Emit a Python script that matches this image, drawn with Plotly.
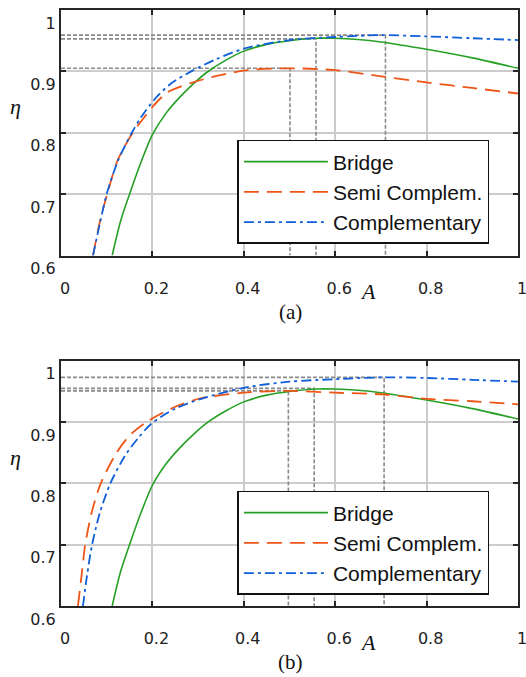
import plotly.graph_objects as go

# ---------------- data ----------------
X_TICKS = [0, 0.2, 0.4, 0.6, 0.8, 1.0]
X_TICK_TEXT = ["0", "0.2", "0.4", "0.6", "0.8", "1"]
Y_TICKS = [0.6, 0.7, 0.8, 0.9, 1.0]
Y_TICK_TEXT = ["0.6", "0.7", "0.8", "0.9", "1"]

SERIES = ["Bridge", "Semi Complem.", "Complementary"]

# Bridge (same in both panels)
A_BRIDGE = [0.112, 0.130, 0.150, 0.175, 0.200, 0.230, 0.260, 0.290, 0.320, 0.360,
            0.400, 0.450, 0.500, 0.560, 0.600, 0.650, 0.700, 0.800, 0.900, 1.000]
ETA_BRIDGE = [0.600, 0.655, 0.700, 0.752, 0.797, 0.832, 0.858, 0.880, 0.899, 0.918,
              0.933, 0.944, 0.950, 0.954, 0.954, 0.952, 0.948, 0.936, 0.922, 0.905]

# panel (a)
A_SEMI_A = [0.070, 0.085, 0.101, 0.125, 0.157, 0.182, 0.200, 0.233, 0.284, 0.343,
            0.409, 0.500, 0.600, 0.700, 0.800, 0.900, 1.000]
ETA_SEMI_A = [0.600, 0.655, 0.700, 0.757, 0.800, 0.825, 0.842, 0.866, 0.881, 0.893,
              0.902, 0.905, 0.902, 0.892, 0.882, 0.873, 0.864]
A_COMP_A = [0.070, 0.085, 0.100, 0.125, 0.155, 0.175, 0.203, 0.240, 0.285, 0.340,
            0.400, 0.500, 0.600, 0.700, 0.800, 0.900, 1.000]
ETA_COMP_A = [0.600, 0.652, 0.700, 0.755, 0.800, 0.825, 0.853, 0.880, 0.900, 0.920,
              0.937, 0.951, 0.956, 0.959, 0.957, 0.954, 0.951]

# panel (b)
A_SEMI_B = [0.037, 0.045, 0.053, 0.068, 0.087, 0.120, 0.150, 0.189, 0.250, 0.307,
            0.400, 0.497, 0.600, 0.707, 0.800, 0.900, 1.000]
ETA_SEMI_B = [0.600, 0.650, 0.700, 0.755, 0.800, 0.848, 0.878, 0.901, 0.925, 0.939,
              0.948, 0.951, 0.948, 0.945, 0.938, 0.934, 0.929]
A_COMP_B = [0.048, 0.057, 0.068, 0.085, 0.108, 0.140, 0.170, 0.197, 0.250, 0.307,
            0.400, 0.500, 0.600, 0.707, 0.800, 0.900, 1.000]
ETA_COMP_B = [0.600, 0.650, 0.700, 0.752, 0.800, 0.845, 0.875, 0.897, 0.922, 0.938,
              0.956, 0.966, 0.970, 0.973, 0.972, 0.969, 0.966]

# optimum markers (A, eta) per series: semi, bridge, complementary
PEAK_A_A = [0.501, 0.558, 0.710]
PEAK_ETA_A = [0.905, 0.953, 0.959]
PEAK_A_B = [0.4975, 0.554, 0.707]
PEAK_ETA_B = [0.951, 0.955, 0.973]

# ---------------- style ----------------
GREEN = "#25a025"
ORANGE = "#ee5516"
BLUE = "#0f5fd8"
GRAY = "#8a8a8a"
FRAME = "#262626"

fig = go.Figure()

panels = [
    ("x", "y", "legend", A_SEMI_A, ETA_SEMI_A, A_COMP_A, ETA_COMP_A, PEAK_A_A, PEAK_ETA_A),
    ("x2", "y2", "legend2", A_SEMI_B, ETA_SEMI_B, A_COMP_B, ETA_COMP_B, PEAK_A_B, PEAK_ETA_B),
]

for xa, ya, leg, a_s, e_s, a_c, e_c, pk_a, pk_e in panels:
    # optimum dashed guides
    for a, e in zip(pk_a, pk_e):
        fig.add_trace(go.Scatter(
            x=[0, a, a], y=[e, e, 0.6], mode="lines", xaxis=xa, yaxis=ya,
            line=dict(color=GRAY, width=1.6, dash="4px,2px"),
            showlegend=False, hoverinfo="skip"))
    fig.add_trace(go.Scatter(
        x=A_BRIDGE, y=ETA_BRIDGE, mode="lines", name=SERIES[0], xaxis=xa, yaxis=ya,
        line=dict(color=GREEN, width=1.6, shape="spline", smoothing=0.8),
        legend=leg, legendgroup="g1" + leg))
    fig.add_trace(go.Scatter(
        x=a_s, y=e_s, mode="lines", name=SERIES[1], xaxis=xa, yaxis=ya,
        line=dict(color=ORANGE, width=1.8, dash="15px,8px", shape="spline", smoothing=0.8),
        legend=leg, legendgroup="g2" + leg))
    fig.add_trace(go.Scatter(
        x=a_c, y=e_c, mode="lines", name=SERIES[2], xaxis=xa, yaxis=ya,
        line=dict(color=BLUE, width=1.8, dash="10px,4px,3px,4px", shape="spline", smoothing=0.8),
        legend=leg, legendgroup="g3" + leg))

TICKFONT = dict(family="DejaVu Sans", size=16, color="#222222")

xaxis_common = dict(
    range=[0, 1], tickvals=X_TICKS, ticktext=X_TICK_TEXT, tickfont=TICKFONT,
    showgrid=True, gridcolor="#cccccc", gridwidth=1.5, zeroline=False,
    showline=True, linecolor=FRAME, linewidth=2, mirror="allticks",
    ticks="inside", ticklen=5, tickwidth=1.5, tickcolor=FRAME, automargin=False,
    ticklabelshift=4, ticklabelstandoff=17, ticklabeloverflow="allow", fixedrange=True)
yaxis_common = dict(
    range=[0.6, 1.0], tickvals=Y_TICKS, ticktext=Y_TICK_TEXT, tickfont=TICKFONT,
    showgrid=True, gridcolor="#cccccc", gridwidth=1.5, zeroline=False,
    showline=True, linecolor=FRAME, linewidth=2, mirror="allticks",
    ticks="inside", ticklen=5, tickwidth=1.5, tickcolor=FRAME, automargin=False,
    ticklabelshift=13, ticklabelstandoff=0, ticklabeloverflow="allow", fixedrange=True)

LEGEND_COMMON = dict(
    xref="paper", yref="paper", xanchor="left", yanchor="top",
    bgcolor="white", bordercolor="#111111", borderwidth=1.5,
    font=dict(family="Liberation Sans", size=21, color="#111111"),
    itemwidth=84, tracegroupgap=0, itemclick=False, itemdoubleclick=False)

SERIF = "Liberation Serif"


def label(text, x, y, size):
    return dict(text=text, x=x, y=y, xref="paper", yref="paper", showarrow=False,
                xanchor="center", yanchor="middle",
                font=dict(family=SERIF, size=size, color="#111111"))


ann = [
    label("η", -0.0985, 0.838, 22),
    label("η", -0.0985, 0.249, 22),
    label("A", 0.671, 0.5285, 22),
    label("A", 0.671, -0.061, 22),
    label("(a)", 0.503, 0.494, 21),
    label("(b)", 0.503, -0.0935, 21),
]
for a in ann[:4]:
    a["font"]["style"] = "italic"

fig.update_layout(
    width=526, height=677,
    margin=dict(l=61, r=8, t=10, b=71),
    paper_bgcolor="white", plot_bgcolor="white",
    xaxis=dict(domain=[0, 1], anchor="y", **xaxis_common),
    yaxis=dict(domain=[0.588, 1], anchor="x", **yaxis_common),
    xaxis2=dict(domain=[0, 1], anchor="y2", **xaxis_common),
    yaxis2=dict(domain=[0, 0.4114], anchor="x2", **yaxis_common),
    legend=dict(x=0.386, y=0.782, **LEGEND_COMMON),
    legend2=dict(x=0.386, y=0.193, **LEGEND_COMMON),
    annotations=ann,
)

fig.write_html("out.html")
